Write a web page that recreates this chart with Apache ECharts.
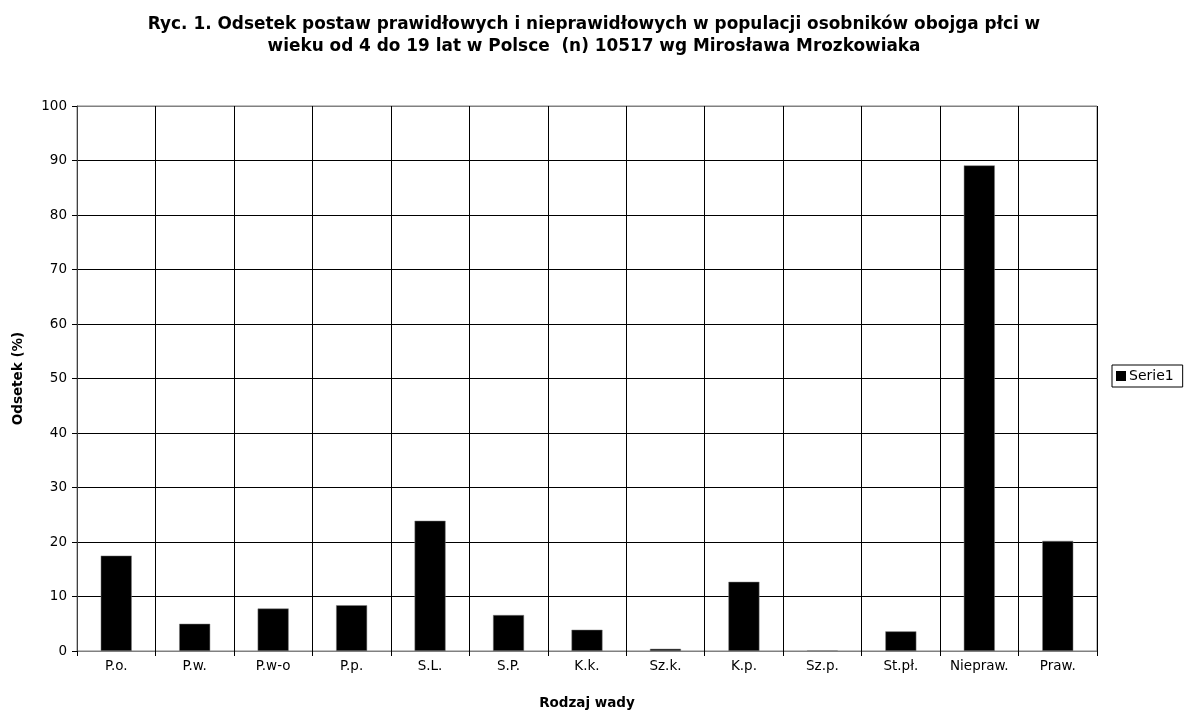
<!DOCTYPE html>
<html>
<head>
<meta charset="utf-8">
<title>Ryc. 1</title>
<script src="https://cdn.jsdelivr.net/npm/echarts@6/dist/echarts.min.js"></script>
<style>
  html, body { margin: 0; padding: 0; background: #fff; }
  #chart { width: 1188px; height: 713px; }
</style>
</head>
<body>
<div id="chart"></div>
<script>
// Categories (posture types) and percentage values
const categories = ['P.o.', 'P.w.', 'P.w-o', 'P.p.', 'S.L.', 'S.P.', 'K.k.', 'Sz.k.', 'K.p.', 'Sz.p.', 'St.pł.', 'Niepraw.', 'Praw.'];
const serie1 = [17.5, 5.0, 7.8, 8.4, 23.9, 6.6, 3.9, 0.4, 12.7, 0.1, 3.6, 89.1, 20.2];
const seriesName = 'Serie1';

const titleText = 'Ryc. 1. Odsetek postaw prawidłowych i nieprawidłowych w populacji osobników obojga płci w\nwieku od 4 do 19 lat w Polsce  (n) 10517 wg Mirosława Mrozkowiaka';
const xAxisTitle = 'Rodzaj wady';
const yAxisTitle = 'Odsetek (%)';

const FONT = '"DejaVu Sans", sans-serif';
const FS = 13.5;

// Horizontal grid: outer lines grey, inner lines dark
const hLineColors = ['#808080', '#000', '#000', '#000', '#000', '#000', '#000', '#000', '#000', '#000', '#808080'];

const chart = echarts.init(document.getElementById('chart'), null, { renderer: 'canvas' });
chart.setOption({
  backgroundColor: '#fff',
  animation: false,
  title: {
    text: titleText,
    left: 'center',
    top: 9,
    textStyle: { fontFamily: FONT, fontSize: 16.9, fontWeight: 'bold', color: '#000', lineHeight: 22 }
  },
  legend: {
    data: [seriesName],
    orient: 'vertical',
    left: 1112,
    top: 365,
    padding: [4, 9, 4, 4],
    borderColor: '#000',
    borderWidth: 1,
    itemWidth: 10,
    itemHeight: 10,
    itemGap: 0,
    icon: 'rect',
    itemStyle: { color: '#000', borderWidth: 0 },
    textStyle: { fontFamily: FONT, fontSize: 14, color: '#000', padding: [0, 0, 0, -2] }
  },
  grid: {
    left: 77,
    right: 91,
    top: 106,
    bottom: 62,
    outerBoundsMode: 'none',
    containLabel: false,
    show: true,
    borderColor: '#808080',
    borderWidth: 1
  },
  xAxis: {
    type: 'category',
    data: categories,
    name: xAxisTitle,
    nameLocation: 'middle',
    nameGap: 45,
    nameTextStyle: { fontFamily: FONT, fontSize: FS, fontWeight: 'bold', color: '#000' },
    axisLine: { show: true, lineStyle: { color: '#808080', width: 1 } },
    axisTick: { show: true, length: 5, alignWithLabel: false, lineStyle: { color: '#000' } },
    axisLabel: { fontFamily: FONT, fontSize: FS, color: '#000', margin: 8, interval: 0 },
    splitLine: { show: true, interval: 0, lineStyle: { color: '#000', width: 1 } }
  },
  yAxis: {
    type: 'value',
    min: 0,
    max: 100,
    interval: 10,
    name: yAxisTitle,
    nameLocation: 'middle',
    nameGap: 52,
    nameRotate: 90,
    nameTextStyle: { fontFamily: FONT, fontSize: FS, fontWeight: 'bold', color: '#000' },
    axisLine: { show: true, lineStyle: { color: '#404040', width: 1 } },
    axisTick: { show: true, length: 5, lineStyle: { color: '#000' } },
    axisLabel: { fontFamily: FONT, fontSize: FS, color: '#000', margin: 10 },
    splitLine: { show: true, lineStyle: { color: hLineColors, width: 1 } }
  },
  series: [{
    name: seriesName,
    type: 'bar',
    data: serie1,
    barWidth: 31,
    itemStyle: { color: '#000', borderColor: '#808080', borderWidth: 0.5 }
  }]
});
</script>
</body>
</html>
